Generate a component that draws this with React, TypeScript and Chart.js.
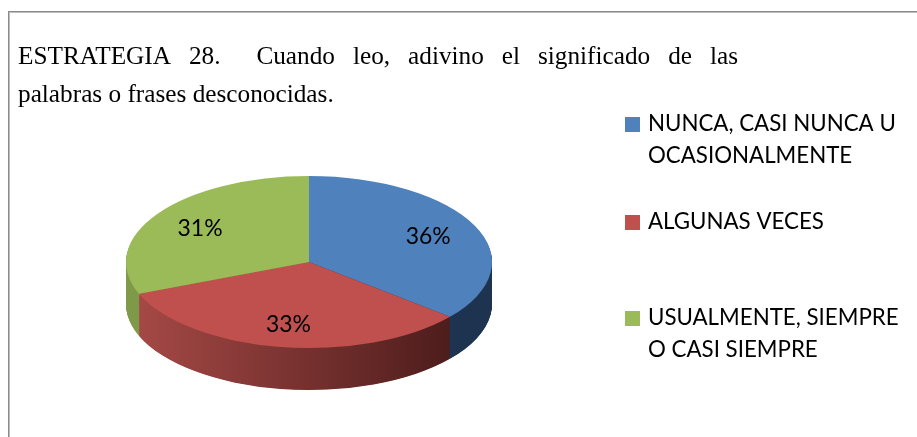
import React, { useEffect, useRef } from 'react';
import { Chart, registerables } from 'chart.js';

Chart.register(...registerables);

// ---- data ----
const categories = [
  'NUNCA, CASI NUNCA U OCASIONALMENTE',
  'ALGUNAS VECES',
  'USUALMENTE, SIEMPRE O CASI SIEMPRE',
];
const legendLines = [
  ['NUNCA, CASI NUNCA U', 'OCASIONALMENTE'],
  ['ALGUNAS VECES'],
  ['USUALMENTE, SIEMPRE', 'O CASI SIEMPRE'],
];
const values = [36, 33, 31];
const percentLabels = ['36%', '33%', '31%'];
const topColors = ['#4F81BD', '#C0504D', '#9BBB59'];
const sideLight = ['#2A4468', '#A84A47', '#7F9A48'];
const sideDark = ['#1D3350', '#4A1B1A', '#5F7734'];
const titleLine1 = 'ESTRATEGIA 28.  Cuando leo, adivino el significado de las';
const titleLine2 = 'palabras o frases desconocidas.';

// ---- layout ----
const W = 917;
const H = 437;
const CX = 309;
const CY = 262;
const RX = 183;
const RY = 86;
const DEPTH = 42;
const PAD_TOP = 35;

function fitSize(ctx: CanvasRenderingContext2D, family: string, text: string, target: number) {
  ctx.font = `100px ${family}`;
  const w = ctx.measureText(text).width;
  return (100 * target) / w;
}

const pie3d = {
  id: 'pie3d',
  beforeDatasetsDraw(chart: any) {
    const ctx: CanvasRenderingContext2D = chart.ctx;
    const arcs = chart.getDatasetMeta(0).data;
    if (!arcs.length) return;
    const a0 = arcs[0];
    const cx = a0.x;
    const cy = a0.y;
    const k = RY / a0.outerRadius;
    const fills = arcs.map((_: any, i: number) => {
      const g = ctx.createLinearGradient(CX - RX, 0, CX + RX, 0);
      g.addColorStop(0, sideLight[i]);
      g.addColorStop(0.92, sideDark[i]);
      g.addColorStop(1, sideDark[i]);
      return g;
    });
    for (let d = DEPTH; d >= 1; d -= 0.5) {
      ctx.save();
      ctx.translate(cx, CY + d);
      ctx.scale(1, k);
      ctx.translate(-cx, -cy);
      arcs.forEach((arc: any, i: number) => {
        const orig = arc.options;
        arc.options = { ...orig, backgroundColor: fills[i] };
        arc.draw(ctx);
        arc.options = orig;
      });
      ctx.restore();
    }
    ctx.save();
    ctx.translate(cx, CY);
    ctx.scale(1, k);
    ctx.translate(-cx, -cy);
  },
  afterDatasetsDraw(chart: any) {
    const ctx: CanvasRenderingContext2D = chart.ctx;
    ctx.restore();
    const arcs = chart.getDatasetMeta(0).data;
    const size = fitSize(ctx, 'Lato', '36%', 45);
    ctx.font = `${size}px Lato`;
    ctx.fillStyle = '#000';
    ctx.textAlign = 'center';
    ctx.textBaseline = 'alphabetic';
    const cap = ctx.measureText('3').actualBoundingBoxAscent;
    arcs.forEach((arc: any, i: number) => {
      const k = RY / arc.outerRadius;
      const mid = (arc.startAngle + arc.endAngle) / 2;
      const rr = arc.outerRadius * 0.72;
      const x = arc.x + Math.cos(mid) * rr;
      const y = CY + Math.sin(mid) * rr * k;
      ctx.fillText(percentLabels[i], x, y + cap / 2);
    });
  },
};

const decor = {
  id: 'decor',
  afterDraw(chart: any) {
    const ctx: CanvasRenderingContext2D = chart.ctx;
    ctx.save();
    // frame
    ctx.fillStyle = '#8a8a8a';
    ctx.fillRect(8, 11, W - 8, 1);
    ctx.fillRect(8, 11, 1, H - 11);
    ctx.fillStyle = '#bdbdbd';
    ctx.fillRect(9, 12, W - 9, 1);
    ctx.fillRect(9, 12, 1, H - 12);

    // title (justified first line)
    const serif = '"Liberation Serif", "Times New Roman", serif';
    const ts = fitSize(ctx, serif, titleLine2, 316);
    ctx.font = `${ts}px ${serif}`;
    ctx.fillStyle = '#000';
    ctx.textAlign = 'left';
    ctx.textBaseline = 'alphabetic';
    const words = titleLine1.split(' ');
    const widths = words.map((w) => ctx.measureText(w).width);
    const total = widths.reduce((a, b) => a + b, 0);
    const gap = (720 - total) / (words.length - 1);
    let x = 18;
    words.forEach((w, i) => {
      ctx.fillText(w, x, 63.5);
      x += widths[i] + gap;
    });
    ctx.fillText(titleLine2, 18, 101.5);

    // legend
    const ls = fitSize(ctx, 'Lato', 'ALGUNAS VECES', 176);
    ctx.font = `${ls}px Lato`;
    const baselines = [131, 229, 325];
    legendLines.forEach((lines, i) => {
      ctx.fillStyle = topColors[i];
      ctx.fillRect(625, baselines[i] - 14, 15, 15);
      ctx.fillStyle = '#000';
      lines.forEach((t, j) => ctx.fillText(t, 648, baselines[i] + j * 32));
    });
    ctx.restore();
  },
};

export default function App() {
  const ref = useRef<HTMLCanvasElement>(null);
  useEffect(() => {
    const canvas = ref.current!;
    const chart = new Chart(canvas, {
      type: 'pie',
      data: {
        labels: categories,
        datasets: [
          {
            data: values,
            backgroundColor: topColors,
            borderWidth: 0,
            hoverOffset: 0,
            offset: 0,
            clip: false,
          } as any,
        ],
      },
      options: {
        responsive: false,
        animation: false,
        events: [],
        layout: {
          padding: {
            left: CX - RX,
            right: W - (CX + RX),
            top: PAD_TOP,
            bottom: H - PAD_TOP - 2 * RX,
          },
        },
        plugins: {
          legend: { display: false },
          tooltip: { enabled: false },
          title: { display: false },
        },
      } as any,
      plugins: [pie3d, decor],
    });
    return () => chart.destroy();
  }, []);
  return (
    <canvas
      ref={ref}
      width={W}
      height={H}
      style={{ position: 'absolute', left: 0, top: 0, width: W, height: H, display: 'block' }}
    />
  );
}
